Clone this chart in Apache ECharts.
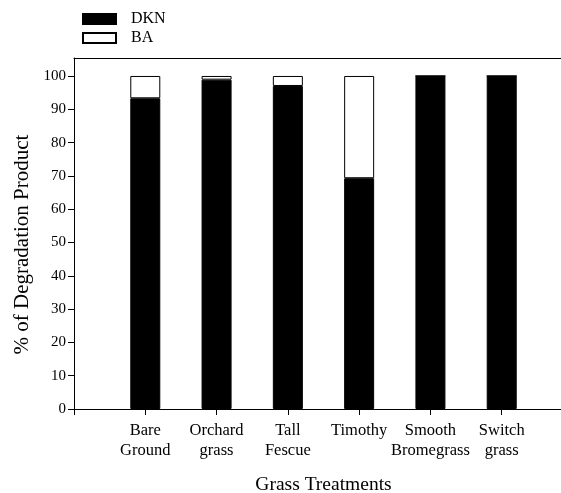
<!doctype html>
<html>
<head>
<meta charset="utf-8">
<title>Degradation Product</title>
<script src="https://cdn.jsdelivr.net/npm/echarts@6/dist/echarts.min.js"></script>
<style>
  html, body { margin: 0; padding: 0; background: #fff; }
  #main { width: 561px; height: 493px; }
</style>
</head>
<body>
<div id="main"></div>
<script>
// leading/trailing blanks keep the empty slots at both ends of the axis
var categories = ['', 'Bare\nGround', 'Orchard\ngrass', 'Tall\nFescue', 'Timothy', 'Smooth\nBromegrass', 'Switch\ngrass', ''];
var dknValues = [null, 93.3, 98.9, 97.0, 69.3, 100, 100, null];
var baValues = [null, 6.7, 1.1, 3.0, 30.7, 0, 0, null];
var yTicks = [0, 10, 20, 30, 40, 50, 60, 70, 80, 90, 100];

var font = 'Liberation Serif';

var chart = echarts.init(document.getElementById('main'));

chart.setOption({
    backgroundColor: '#fff',
    animation: false,
    textStyle: { fontFamily: font, color: '#000' },
    legend: {
        orient: 'vertical',
        left: 77,
        top: 6,
        itemWidth: 33,
        itemHeight: 10,
        itemGap: 3,
        icon: 'rect',
        textStyle: { fontFamily: font, fontSize: 16, color: '#000', padding: [0, 0, 0, 10] },
        data: ['DKN', 'BA']
    },
    grid: { left: 74, right: -12, top: 58, bottom: 84, outerBoundsMode: 'none', containLabel: false },
    xAxis: [{
        type: 'category',
        data: categories,
        boundaryGap: false,
        splitLine: { show: false },
        axisLine: { lineStyle: { color: '#000', width: 1 } },
        axisTick: { length: 6, lineStyle: { color: '#000' } },
        axisLabel: {
            interval: 0,
            margin: 12,
            fontFamily: font,
            fontSize: 16.5,
            lineHeight: 20,
            color: '#000',
            verticalAlign: 'top'
        },
        name: 'Grass Treatments',
        nameLocation: 'middle',
        nameGap: 66,
        nameTextStyle: { fontFamily: font, fontSize: 19.5, color: '#000' }
    }, {
        type: 'category',
        data: categories,
        position: 'top',
        boundaryGap: false,
        axisLine: { show: true, onZero: false, lineStyle: { color: '#000', width: 1 } },
        axisTick: { show: false },
        axisLabel: { show: false }
    }],
    yAxis: {
        type: 'value',
        min: 0,
        max: 105.4,
        splitLine: { show: false },
        axisLine: { show: true, lineStyle: { color: '#000', width: 1 } },
        axisTick: { show: true, customValues: yTicks, length: 6, lineStyle: { color: '#000' } },
        axisLabel: { customValues: yTicks, fontFamily: font, fontSize: 15, color: '#000', margin: 8 },
        name: '% of Degradation Product',
        nameLocation: 'middle',
        nameRotate: 90,
        nameGap: 40,
        nameTextStyle: { fontFamily: font, fontSize: 21, color: '#000', padding: [0, 22, 0, 0] }
    },
    series: [{
        name: 'DKN',
        type: 'bar',
        stack: 'total',
        barWidth: 30,
        itemStyle: { color: '#000', borderColor: '#000', borderWidth: 1 },
        data: dknValues
    }, {
        name: 'BA',
        type: 'bar',
        stack: 'total',
        barWidth: 30,
        itemStyle: { color: '#fff', borderColor: '#000', borderWidth: 1 },
        data: baValues
    }]
});
</script>
</body>
</html>
